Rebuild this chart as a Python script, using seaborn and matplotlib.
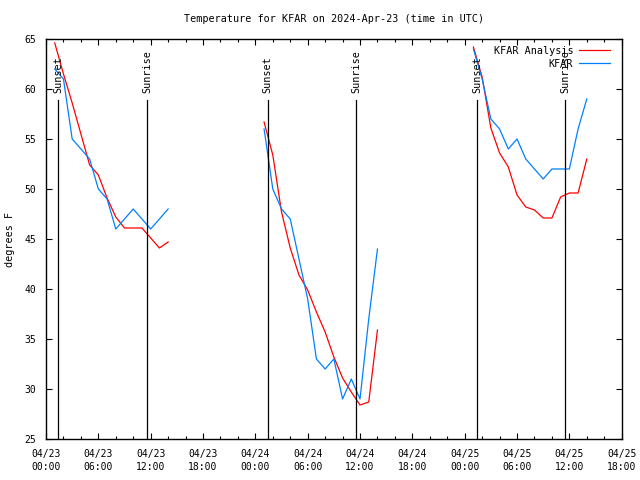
import pandas as pd
import numpy as np
import matplotlib
matplotlib.use('Agg')
import matplotlib.pyplot as plt
import matplotlib.dates as mdates
import seaborn as sns

# Hours after 2024-04-23 00:00 UTC, one segment per night
hours_day1 = list(range(1, 15))
hours_day2 = list(range(25, 39))
hours_day3 = list(range(49, 63))

analysis_day1 = [64.6, 61.5, 58.6, 55.5, 52.4, 51.4, 49.1, 47.2, 46.1, 46.1, 46.1, 45.1, 44.1, 44.7]
analysis_day2 = [56.7, 53.4, 47.7, 44.1, 41.4, 39.9, 37.7, 35.7, 33.2, 31.1, 29.7, 28.4, 28.7, 35.9]
analysis_day3 = [64.2, 61.2, 56.1, 53.6, 52.2, 49.4, 48.2, 47.9, 47.1, 47.1, 49.2, 49.6, 49.6, 53.0]

obs_day1 = [62, 61, 55, 54, 53, 50, 49, 46, 47, 48, 47, 46, 47, 48]
obs_day2 = [56, 50, 48, 47, 43, 39, 33, 32, 33, 29, 31, 29, 37, 44]
obs_day3 = [64, 61, 57, 56, 54, 55, 53, 52, 51, 52, 52, 52, 56, 59]

sunset_times = ['2024-04-23 01:23', '2024-04-24 01:24', '2024-04-25 01:25']
sunrise_times = ['2024-04-23 11:36', '2024-04-24 11:34', '2024-04-25 11:32']

series_names = ['KFAR Analysis', 'KFAR']
series_colors = {'KFAR Analysis': '#ff0000', 'KFAR': '#0080ff'}

start = pd.Timestamp('2024-04-23 00:00')
end = pd.Timestamp('2024-04-25 18:00')

# Build long-form table; 'seg' keeps the nightly pieces from joining up
rows = []
for name, segs in [('KFAR Analysis', [analysis_day1, analysis_day2, analysis_day3]),
                   ('KFAR', [obs_day1, obs_day2, obs_day3])]:
    for k, (hrs, vals) in enumerate(zip([hours_day1, hours_day2, hours_day3], segs)):
        for h, v in zip(hrs, vals):
            rows.append({'time': start + pd.Timedelta(hours=h), 'temp': v,
                         'series': name, 'seg': k})
df = pd.DataFrame(rows)

plt.rcParams['font.family'] = ['DejaVu Sans Mono']

fig = plt.figure(figsize=(6.4, 4.8), dpi=100)
ax = fig.add_axes([0.0719, 0.0854, 0.8995, 0.8334])

sns.lineplot(data=df, x='time', y='temp', hue='series', hue_order=series_names,
             units='seg', estimator=None, palette=series_colors, linewidth=0.9, ax=ax)

# Sunset / sunrise markers
for t in sunset_times:
    ts = pd.Timestamp(t)
    ax.plot([ts, ts], [25, 58.9], color='black', lw=0.9)
    ax.text(ts, 59.6, 'Sunset', rotation=90, ha='center', va='bottom', fontsize=7.3)
for t in sunrise_times:
    ts = pd.Timestamp(t)
    ax.plot([ts, ts], [25, 58.9], color='black', lw=0.9)
    ax.text(ts, 59.6, 'Sunrise', rotation=90, ha='center', va='bottom', fontsize=7.3)

ax.set_xlim(start, end)
ax.set_ylim(25, 65)
ax.xaxis.set_major_locator(mdates.HourLocator(byhour=[0, 6, 12, 18]))
ax.xaxis.set_minor_locator(mdates.HourLocator(byhour=range(0, 24, 2)))
ax.xaxis.set_major_formatter(mdates.DateFormatter('%m/%d\n%H:%M'))
ax.set_yticks(range(25, 66, 5))

ax.tick_params(which='both', direction='in', top=True, right=True, colors='black')
ax.tick_params(which='major', length=4, width=0.8, labelsize=7, pad=7)
ax.tick_params(which='minor', length=2.3, width=0.8)
for lbl in ax.get_xticklabels():
    lbl.set_linespacing(1.35)
for s in ax.spines.values():
    s.set_linewidth(1.0)
    s.set_color('black')

ax.set_xlabel('')
ax.set_ylabel('degrees F', fontsize=7.3, labelpad=7)
ax.set_title('Temperature for KFAR on 2024-Apr-23 (time in UTC)', fontsize=7.3, pad=12)

handles, labels = ax.get_legend_handles_labels()
ax.legend(handles, labels, loc='upper right', bbox_to_anchor=(0.988, 0.995),
          frameon=False, markerfirst=False, fontsize=7.3, handlelength=3.0,
          handletextpad=0.6, labelspacing=0.25, borderaxespad=0.3, borderpad=0.2)

fig.savefig('out.png', dpi=100)
